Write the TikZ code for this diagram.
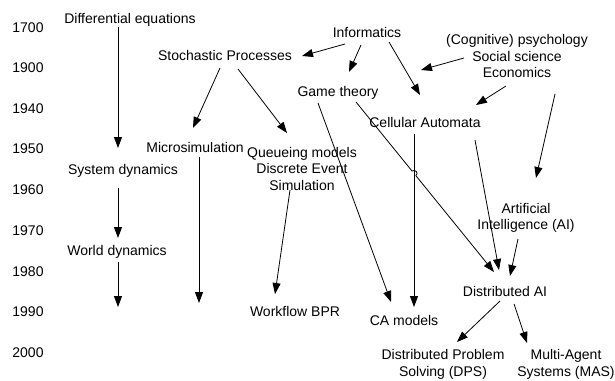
\documentclass[tikz,border=0pt]{standalone}
\usepackage{fontspec}
\setmainfont{Liberation Sans}
\usetikzlibrary{arrows.meta}
\begin{document}
\begin{tikzpicture}[x=1pt,y=-1pt,
  txt/.style={inner sep=0pt, font=\fontsize{14}{16.5}\selectfont, align=center},
  oneline/.style={txt, text height=10pt, text depth=0pt},
  arr/.style={line width=0.8pt, -{Triangle[length=11pt,width=8pt]}},
  ]
\useasboundingbox (0,0) rectangle (615,380);

% time axis
\foreach \yr/\yy in {1700/27,1900/67,1940/108,1950/148,1960/189,1970/230,1980/271,1990/311,2000/352}
  \node[oneline] (y\yr) at (28,\yy) {\yr};

% topics
\node[oneline] (diffeq)   at (130,18)  {Differential equations};
\node[oneline] (stoch)    at (225,55)  {Stochastic Processes};
\node[oneline] (info)     at (367,32)  {Informatics};
\node[txt]     (social)   at (517,56)  {(Cognitive) psychology\\Social science\\Economics};
\node[oneline] (game)     at (338,91)  {Game theory};
\node[oneline] (cella)    at (425,122) {Cellular Automata};
\node[oneline] (micro)    at (195,147) {Microsimulation};
\node[txt]     (queue)    at (302,168.5) {Queueing models\\Discrete Event\\Simulation};
\node[oneline] (sysdyn)   at (123,169) {System dynamics};
\node[oneline] (world)    at (117,250) {World dynamics};
\node[txt]     (ai)       at (526,218) {Artificial\\Intelligence (AI)};
\node[oneline] (distai)   at (505,291) {Distributed AI};
\node[oneline] (workflow) at (295,311) {Workflow BPR};
\node[oneline] (camod)    at (404,320) {CA models};
\node[txt]     (dps)      at (443,364.4) {Distributed Problem\\Solving (DPS)};
\node[txt]     (mas)      at (566,364.4) {Multi-Agent\\Systems (MAS)};

% arrow ends (arrows stop short of the labels)
\coordinate (diffeq-o)  at (118,27);   \coordinate (sysdyn-i)  at (118,148);
\coordinate (sysdyn-o)  at (118,188);  \coordinate (world-i)   at (118,238);
\coordinate (world-o)   at (118,262);  \coordinate (world-end) at (118,307);
\coordinate (stoch-o1)  at (220,68);   \coordinate (micro-i)   at (193,128);
\coordinate (stoch-o2)  at (238,69);   \coordinate (queue-i)   at (287,133);
\coordinate (micro-o)   at (199,157);  \coordinate (micro-end) at (199,303);
\coordinate (queue-o)   at (290,190);  \coordinate (work-i)    at (275,294);
\coordinate (info-o1)   at (345,44);   \coordinate (stoch-i)   at (302,56);
\coordinate (info-o2)   at (361,45);   \coordinate (game-i)    at (349,72);
\coordinate (info-o3)   at (389,42);   \coordinate (cella-i1)  at (420,95);
\coordinate (social-o1) at (464,58);   \coordinate (social-end) at (421,70);
\coordinate (social-o2) at (506,86);   \coordinate (cella-i2)  at (476,105);
\coordinate (social-o3) at (555,94);   \coordinate (ai-i)      at (536,178);
\coordinate (game-o1)   at (318,103);  \coordinate (camod-i1)  at (391,302);
\coordinate (game-o2)   at (356,102);  \coordinate (distai-i1) at (494,272);
\coordinate (cella-o1)  at (414,134);  \coordinate (camod-i2)  at (414,307);
\coordinate (cella-o2)  at (475,140);  \coordinate (distai-i2) at (499,270);
\coordinate (ai-o)      at (518,239);  \coordinate (distai-i3) at (510,276);
\coordinate (distai-o1) at (500,301);  \coordinate (dps-i)     at (457,342);
\coordinate (distai-o2) at (514,304);  \coordinate (mas-i)     at (527,343);
% small hop where game theory line crosses the CA line
\coordinate (hop-a) at (412.1,171.1);  \coordinate (hop-b) at (415.9,175.7);

% connectors
\draw[arr] (diffeq-o) -- (sysdyn-i);
\draw[arr] (sysdyn-o) -- (world-i);
\draw[arr] (world-o) -- (world-end);
\draw[arr] (stoch-o1) -- (micro-i);
\draw[arr] (stoch-o2) -- (queue-i);
\draw[arr] (micro-o) -- (micro-end);
\draw[arr] (queue-o) -- (work-i);
\draw[arr] (info-o1) -- (stoch-i);
\draw[arr] (info-o2) -- (game-i);
\draw[arr] (info-o3) -- (cella-i1);
\draw[arr] (social-o1) -- (social-end);
\draw[arr] (social-o2) -- (cella-i2);
\draw[arr] (social-o3) -- (ai-i);
\draw[arr] (game-o1) -- (camod-i1);
\draw[arr] (game-o2) -- (hop-a)
   .. controls (415.2,168.6) and (419.0,173.2) .. (hop-b) -- (distai-i1);
\draw[arr] (cella-o1) -- (camod-i2);
\draw[arr] (cella-o2) -- (distai-i2);
\draw[arr] (ai-o) -- (distai-i3);
\draw[arr] (distai-o1) -- (dps-i);
\draw[arr] (distai-o2) -- (mas-i);
\end{tikzpicture}
\end{document}
